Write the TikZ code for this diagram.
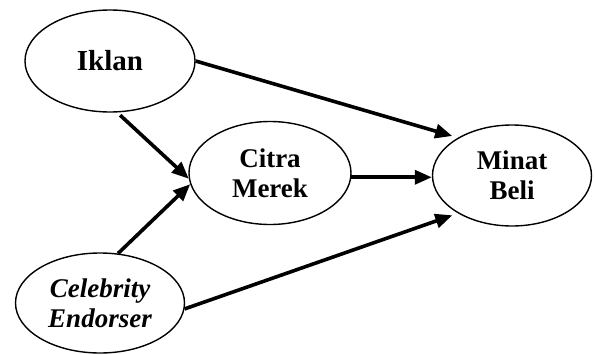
\documentclass[tikz,border=0pt]{standalone}
\usepackage{fontspec}
\setmainfont{Liberation Serif}
\usetikzlibrary{shapes.geometric, arrows.meta}

\begin{document}
\begin{tikzpicture}[
        x=0.5pt, y=-0.5pt,
        var/.style={draw, ellipse, line width=0.7pt, inner sep=0pt, align=center, font=\fontsize{13.5}{15}\selectfont\bfseries},
        arrow/.style={-{Triangle[length=8.5pt, width=7pt]}, line width=1.8pt}
    ]
        \useasboundingbox (0,0) rectangle (595,354);

        % Nodes
        \node[var, minimum width=85pt, minimum height=51pt] (iklan) at (110,61) {\fontsize{14.5}{15}\selectfont Iklan};
        \node[var, minimum width=81pt, minimum height=51.5pt] (citra) at (270,173) {Citra\\Merek};
        \node[var, minimum width=79.5pt, minimum height=50.5pt] (minat) at (512,175.5) {Minat\\Beli};
        \node[var, minimum width=84.5pt, minimum height=50pt] (celeb) at (100,303) {\itshape Celebrity\\\itshape Endorser};

        % Arrows
        \draw[arrow, shorten >=3pt] (iklan.east) -- (minat.145);
        \draw[arrow, shorten <=2pt] (iklan.-82) -- (citra.184);
        \draw[arrow] (celeb.70) -- (citra.188);
        \draw[arrow] (citra.-3) -- (citra.-3 -| minat.west);
        \draw[arrow, shorten >=3pt] (celeb.-4) -- (minat.215);

    \end{tikzpicture}
\end{document}
